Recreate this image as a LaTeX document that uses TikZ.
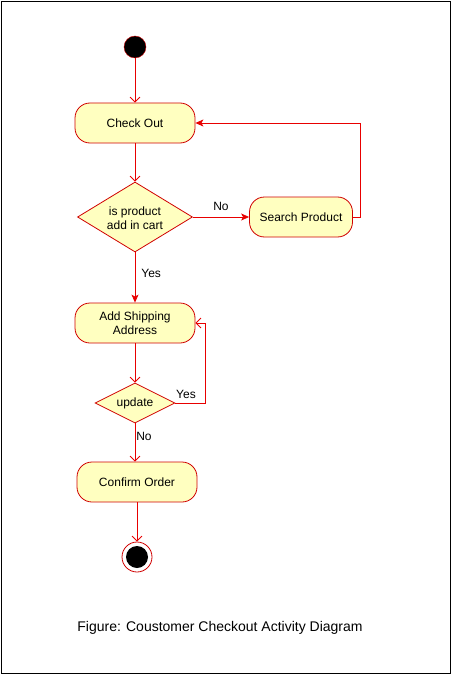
\documentclass[tikz,border=0pt]{standalone}
\usepackage{fontspec}
\setmainfont{Liberation Sans}
\usetikzlibrary{shapes.geometric,arrows.meta}
\definecolor{nodered}{HTML}{D00000}
\definecolor{edgered}{HTML}{E80000}
\definecolor{umlfill}{HTML}{FFFFC0}
\begin{document}
\begin{tikzpicture}[x=1pt,y=-1pt,
  act/.style={draw=nodered,fill=umlfill,line width=0.8pt,rounded corners=15pt,minimum height=40pt,align=center,inner sep=0pt,font=\fontsize{12}{14}\selectfont},
  dec/.style={draw=nodered,fill=umlfill,line width=0.8pt,shape=diamond,inner sep=0pt},
  conn/.style={draw=edgered,line width=0.8pt},
  openarr/.style={conn,-{Straight Barb[length=5pt,width=10pt,line width=0.8pt]}},
  fillarr/.style={conn,-{Stealth[length=8pt,width=7pt,inset=2pt]}},
  lbl/.style={font=\fontsize{12}{14}\selectfont,inner sep=0pt}]
\useasboundingbox (0,0) rectangle (451,674);
\draw[black,line width=0.8pt] (1,1) rectangle (450,673);
\node[circle,fill=black,draw=nodered,minimum size=22pt,inner sep=0pt] (start) at (135,47) {};
\node[act,minimum width=120pt] (checkout) at (135,123) {Check Out};
\node[dec,minimum width=115pt,minimum height=70pt,shape aspect=1.64] (isprod) at (135,217) {};
\node[lbl,align=center] at (135,218) {is product\\add in cart};
\node[act,minimum width=103pt] (search) at (301,217) {Search Product};
\node[act,minimum width=120pt] (ship) at (135,323) {Add Shipping\\Address};
\node[dec,minimum width=80pt,minimum height=40pt,shape aspect=2] (update) at (135,403) {};
\node[lbl] at (135,403) {update};
\node[act,minimum width=120pt] (confirm) at (137,482) {Confirm Order};
\node[circle,draw=nodered,fill=white,minimum size=30pt,inner sep=0pt,line width=0.8pt] (endo) at (137,557) {};
\node[circle,fill=black,minimum size=22pt,inner sep=0pt] (endi) at (137,557) {};
\coordinate (c1) at (360,217);
\coordinate (c2) at (360,123);
\coordinate (c3) at (205,403);
\coordinate (c4) at (205,323);
\draw[openarr] (start) -- (checkout);
\draw[openarr] (checkout) -- (isprod.north);
\draw[fillarr] (isprod.east) -- (search.west) node[lbl,midway,above=6pt] {No};
\draw[fillarr] (search.east) -- (c1) -- (c2) -- (checkout.east);
\draw[fillarr] (isprod.south) -- (ship.north) node[lbl,pos=0.42,right=6pt] {Yes};
\draw[openarr] (ship) -- (update.north);
\draw[openarr] (update.east) -- (c3) -- (c4) -- (ship.east);
\node[lbl] at (186,394) {Yes};
\draw[openarr] (update.south) -- (update.south |- confirm.north);
\node[lbl] at (144,436) {No};
\draw[openarr] (confirm) -- (endo);
\node[font=\fontsize{14}{16}\selectfont] (cap) at (220,628) {Figure: Coustomer Checkout Activity Diagram};
\end{tikzpicture}
\end{document}
